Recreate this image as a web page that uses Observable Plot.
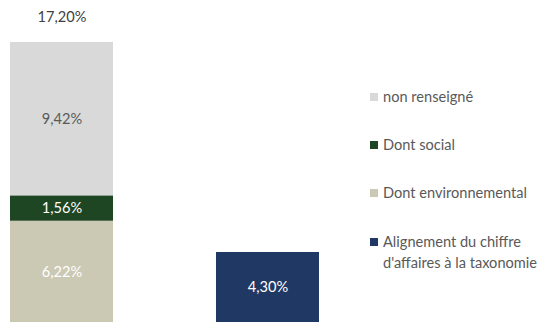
<!DOCTYPE html>
<html>
<head>
<meta charset="utf-8">
<script src="https://cdn.jsdelivr.net/npm/d3@7"></script>
<script src="https://cdn.jsdelivr.net/npm/@observablehq/plot@0.6"></script>
<style>
  html, body { margin: 0; padding: 0; background: #fff; }
  #wrap { position: relative; width: 542px; height: 322px; font-family: Lato, "Open Sans", sans-serif; }
  #legend { position: absolute; left: 370px; top: 0; }
  .item { position: absolute; left: 0; display: flex; align-items: flex-start; white-space: nowrap; color: #595959; font-size: 14.6px; line-height: 21px; }
  .sw { width: 8px; height: 8px; margin-top: 6.5px; margin-right: 5px; flex: none; }
</style>
</head>
<body>
<div id="wrap"><div id="legend"></div></div>
<script>
const bars = ["Total", "Taxonomie"];
const segmentNames = ["Dont environnemental", "Dont social", "non renseigné", "Alignement du chiffre d'affaires à la taxonomie"];
const segmentBar = ["Total", "Total", "Total", "Taxonomie"];
const segmentValues = [6.22, 1.56, 9.42, 4.30];
const segmentLabels = ["6,22%", "1,56%", "9,42%", "4,30%"];
const segmentColors = ["#CBC8B4", "#1F4623", "#D9D9D9", "#1F3864"];
const labelColors = ["#FFFFFF", "#FFFFFF", "#595959", "#FFFFFF"];
const totalValue = 17.20;
const totalLabel = "17,20%";
const legendOrder = ["non renseigné", "Dont social", "Dont environnemental", "Alignement du chiffre d'affaires à la taxonomie"];
const legendLines = [["non renseigné"], ["Dont social"], ["Dont environnemental"], ["Alignement du chiffre", "d'affaires à la taxonomie"]];

const data = segmentNames.map((name, i) => ({
  name, bar: segmentBar[i], value: segmentValues[i], label: segmentLabels[i], labelColor: labelColors[i]
}));

const chart = Plot.plot({
  width: 542,
  height: 322,
  margin: 0,
  style: { fontFamily: "Lato, 'Open Sans', sans-serif", fontSize: "14.6px", background: "transparent" },
  x: { type: "band", domain: bars, range: [10, 319], paddingInner: 0.5, paddingOuter: 0, axis: null },
  y: { domain: [0, totalValue], range: [322, 42], axis: null },
  color: { domain: segmentNames, range: segmentColors },
  marks: [
    Plot.barY(data, Plot.stackY({ x: "bar", y: "value", fill: "name", order: segmentNames })),
    Plot.text(data, Plot.stackY({ x: "bar", y: "value", text: "label", fill: "labelColor", order: segmentNames })),
    Plot.text([totalValue], { x: () => bars[0], y: d => d, dy: -25, text: () => totalLabel, fill: "#404040" })
  ]
});
document.getElementById("wrap").prepend(chart);

const rowTops = [86, 134, 182, 231];
const legend = document.getElementById("legend");
legendOrder.forEach((name, i) => {
  const item = document.createElement("div");
  item.className = "item";
  item.style.top = rowTops[i] + "px";
  const sw = document.createElement("div");
  sw.className = "sw";
  sw.style.background = segmentColors[segmentNames.indexOf(name)];
  const txt = document.createElement("div");
  txt.innerHTML = legendLines[i].map(s => s.replace(/&/g, "&amp;")).join("<br>");
  item.append(sw, txt);
  legend.append(item);
});
</script>
</body>
</html>
